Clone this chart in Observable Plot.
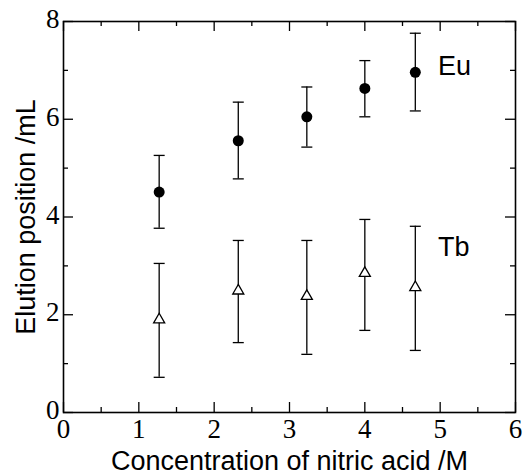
<!DOCTYPE html>
<html>
<head>
<meta charset="utf-8">
<script src="https://cdn.jsdelivr.net/npm/d3@7"></script>
<script src="https://cdn.jsdelivr.net/npm/@observablehq/plot@0.6"></script>
<style>
  html, body { margin: 0; padding: 0; background: #fff; }
  #chart svg { display: block; }
</style>
</head>
<body>
<div id="chart"></div>
<script>
// Data
const conc = [1.27, 2.32, 3.23, 4.00, 4.67];
const eu   = [4.51, 5.56, 6.05, 6.63, 6.96];
const euHi = [5.26, 6.35, 6.66, 7.20, 7.76];
const euLo = [3.77, 4.78, 5.43, 6.05, 6.17];
const tb   = [1.90, 2.49, 2.38, 2.85, 2.56];
const tbHi = [3.05, 3.52, 3.52, 3.95, 3.81];
const tbLo = [0.72, 1.43, 1.19, 1.68, 1.27];

const xMajor = [0, 1, 2, 3, 4, 5, 6];
const xMinor = [0.5, 1.5, 2.5, 3.5, 4.5, 5.5];
const yMajor = [0, 2, 4, 6, 8];
const yMinor = [1, 3, 5, 7];

const seriesLabels = [
  {name: "Eu", x: 4.97, y: 6.91},
  {name: "Tb", x: 4.97, y: 3.21}
];

const xTitle = "Concentration of nitric acid /M";
const yTitle = "Elution position /mL";

const euData = conc.map((c, i) => ({x: c, y: eu[i], lo: euLo[i], hi: euHi[i]}));
const tbData = conc.map((c, i) => ({x: c, y: tb[i], lo: tbLo[i], hi: tbHi[i]}));
const all = euData.concat(tbData);

const W = 526, H = 474;
const mL = 63, mR = 11, mT = 21, mB = 62;
const fw = W - mL - mR, fh = H - mT - mB;
const major = 10, minor = 5;
const sans = "'Liberation Sans', sans-serif";
const serif = "'Liberation Serif', serif";

const capSymbol = { draw(ctx) { ctx.moveTo(-5.5, 0); ctx.lineTo(5.5, 0); } };

const chart = Plot.plot({
  width: W, height: H,
  marginLeft: mL, marginRight: mR, marginTop: mT, marginBottom: mB,
  x: {domain: [0, 6], axis: null},
  y: {domain: [0, 8], axis: null},
  style: {background: "#fff"},
  marks: [
    // inward ticks on all sides
    Plot.tickX(xMajor, {x: d => d, insetTop: fh - major, stroke: "#000", strokeWidth: 1.3}),
    Plot.tickX(xMajor, {x: d => d, insetBottom: fh - major, stroke: "#000", strokeWidth: 1.3}),
    Plot.tickX(xMinor, {x: d => d, insetTop: fh - minor, stroke: "#000", strokeWidth: 1.3}),
    Plot.tickX(xMinor, {x: d => d, insetBottom: fh - minor, stroke: "#000", strokeWidth: 1.3}),
    Plot.tickY(yMajor, {y: d => d, insetRight: fw - major, stroke: "#000", strokeWidth: 1.3}),
    Plot.tickY(yMajor, {y: d => d, insetLeft: fw - major, stroke: "#000", strokeWidth: 1.3}),
    Plot.tickY(yMinor, {y: d => d, insetRight: fw - minor, stroke: "#000", strokeWidth: 1.3}),
    Plot.tickY(yMinor, {y: d => d, insetLeft: fw - minor, stroke: "#000", strokeWidth: 1.3}),
    Plot.frame({stroke: "#000", strokeWidth: 1.6}),
    // tick labels (serif)
    Plot.text(xMajor, {x: d => d, text: d => String(d), frameAnchor: "bottom", dy: 6, lineAnchor: "top", textAnchor: "middle", fontFamily: serif, fontSize: 27, fill: "#000"}),
    Plot.text(yMajor, {y: d => d, text: d => String(d), frameAnchor: "left", dx: -4, dy: -2, lineAnchor: "middle", textAnchor: "end", fontFamily: serif, fontSize: 27, fill: "#000"}),
    // axis titles
    Plot.text([xTitle], {text: d => d, frameAnchor: "bottom", dy: 57, lineAnchor: "bottom", textAnchor: "middle", fontFamily: sans, fontSize: 27, fill: "#000"}),
    Plot.text([yTitle], {text: d => d, frameAnchor: "left", dx: -29, rotate: -90, lineAnchor: "bottom", textAnchor: "middle", fontFamily: sans, fontSize: 27, fill: "#000"}),
    // error bars
    Plot.ruleX(all, {x: "x", y1: "lo", y2: "hi", stroke: "#000", strokeWidth: 1.3}),
    Plot.dot(all, {x: "x", y: "hi", symbol: capSymbol, r: 3, stroke: "#000", strokeWidth: 1.3}),
    Plot.dot(all, {x: "x", y: "lo", symbol: capSymbol, r: 3, stroke: "#000", strokeWidth: 1.3}),
    // markers
    Plot.dot(euData, {x: "x", y: "y", r: 5.5, fill: "#000", stroke: "none", symbol: "circle"}),
    Plot.dot(tbData, {x: "x", y: "y", r: 4.1, symbol: "triangle", fill: "#fff", stroke: "#000", strokeWidth: 1.3}),
    // series labels
    Plot.text(seriesLabels, {x: "x", y: "y", text: "name", textAnchor: "start", lineAnchor: "bottom", fontFamily: sans, fontSize: 27, fill: "#000"})
  ]
});
document.getElementById("chart").appendChild(chart);
</script>
</body>
</html>
